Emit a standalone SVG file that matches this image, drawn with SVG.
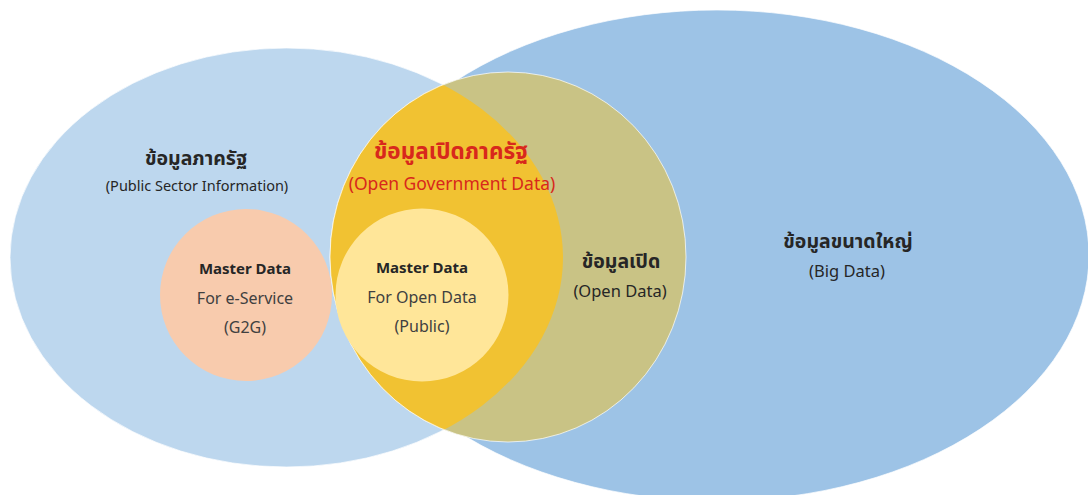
<svg xmlns="http://www.w3.org/2000/svg" width="1088" height="495" viewBox="0 0 1088 495">
<style>
text{font-family:"Noto Sans","Noto Sans Thai","Open Sans",sans-serif;text-anchor:middle;fill:#262626}
.th{font-size:19.5px;font-weight:bold}
.md{font-size:15px;font-weight:bold}
.sub{font-size:16px;fill:#404040}
.red{fill:#D8281C}
.shape{stroke:#FFFFFF;stroke-width:1;stroke-opacity:0.7}
</style>
<defs>
<clipPath id="clipLeft"><ellipse cx="286.5" cy="257.5" rx="276.5" ry="209.5"/></clipPath>
</defs>
<rect width="1088" height="495" fill="#FFFFFF"/>
<g id="big-data">
<ellipse class="shape" cx="717" cy="255.5" rx="372" ry="245.5" fill="#9DC3E6"/>
<text class="th" x="848" y="248">ข้อมูลขนาดใหญ่</text>
<text x="847" y="277" font-size="16.5">(Big Data)</text>
</g>
<g id="public-sector">
<ellipse class="shape" cx="286.5" cy="257.5" rx="276.5" ry="209.5" fill="#BDD7EE"/>
<text class="th" x="196" y="165">ข้อมูลภาครัฐ</text>
<text x="197" y="191" font-size="14.5">(Public Sector Information)</text>
</g>
<g id="open-data">
<ellipse class="shape" cx="508" cy="257" rx="178" ry="185" fill="#C9C385"/>
<text class="th" x="621" y="268" font-size="21px">ข้อมูลเปิด</text>
<text x="620" y="297" font-size="16.5">(Open Data)</text>
</g>
<g id="open-government-data">
<ellipse class="shape" cx="508" cy="257" rx="178" ry="185" fill="#F1C232" clip-path="url(#clipLeft)"/>
<text class="th red" x="451" y="159" style="font-size:22.5px">ข้อมูลเปิดภาครัฐ</text>
<text class="red" x="452" y="190" font-size="17.5">(Open Government Data)</text>
</g>
<g id="master-eservice">
<circle cx="246" cy="295" r="86" fill="#F8CBAD"/>
<text class="md" x="245" y="274">Master Data</text>
<text class="sub" x="245" y="304">For e-Service</text>
<text class="sub" x="245" y="333">(G2G)</text>
</g>
<g id="master-opendata">
<circle cx="422" cy="295" r="86.5" fill="#FFE699"/>
<text class="md" x="422" y="273">Master Data</text>
<text class="sub" x="422" y="303">For Open Data</text>
<text class="sub" x="422" y="332">(Public)</text>
</g>
<g id="connectors"/>
</svg>
